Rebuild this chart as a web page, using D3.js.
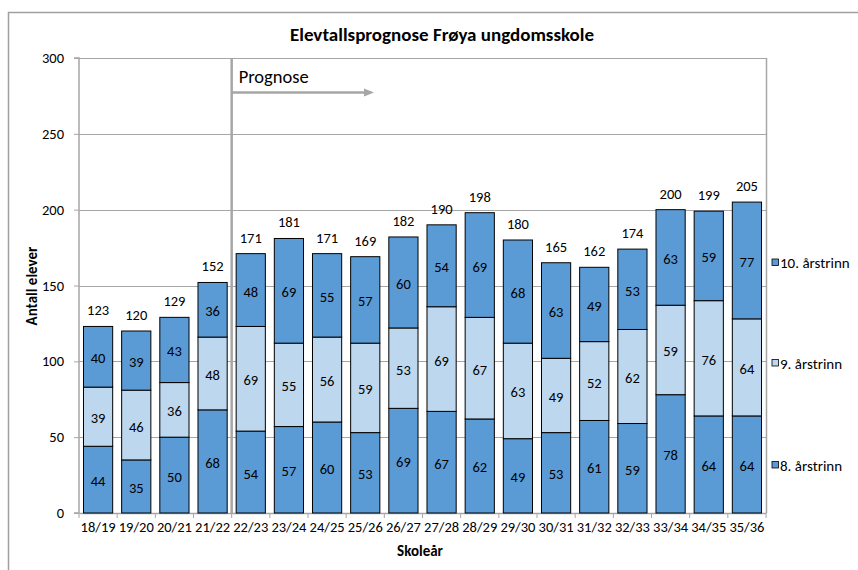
<!DOCTYPE html>
<html><head><meta charset="utf-8">
<script src="https://cdn.jsdelivr.net/npm/d3@7"></script>
<style>body{margin:0;background:#fff}svg{font-family:Carlito,Calibri,Lato,"Open Sans",sans-serif}</style>
</head><body><svg id="c" width="858" height="570"></svg>
<script>
const categories=["18/19","19/20","20/21","21/22","22/23","23/24","24/25","25/26","26/27","27/28","28/29","29/30","30/31","31/32","32/33","33/34","34/35","35/36"];
const trinn8=[44,35,50,68,54,57,60,53,69,67,62,49,53,61,59,78,64,64];
const trinn9=[39,46,36,48,69,55,56,59,53,69,67,63,49,52,62,59,76,64];
const trinn10=[40,39,43,36,48,69,55,57,60,54,69,68,63,49,53,63,59,77];
const seriesNames=["8. årstrinn","9. årstrinn","10. årstrinn"];
const yTicks=[0,50,100,150,200,250,300];
const prognoseStart="22/23";

const svg=d3.select("#c");
const L=79,R=766,T=58,B=513;
const x=d3.scaleBand().domain(categories).range([L,R]).paddingInner(0.235).paddingOuter(0.1175);
const y=d3.scaleLinear().domain([0,300]).range([B,T]);
const colors=["#5b9bd5","#bdd7ee","#5b9bd5"];
const FF="Carlito,Calibri,Lato,sans-serif";

// outer frame
svg.append("path").attr("d","M8.5,570 V12.5 H858").attr("fill","none").attr("stroke","#a0a0a0").attr("stroke-width",1.5);

// title
svg.append("text").attr("x",442).attr("y",41).attr("text-anchor","middle").attr("font-weight","bold").attr("font-size",19).text("Elevtallsprognose Frøya ungdomsskole");

// gridlines
svg.append("g").selectAll("line").data(yTicks.filter(d=>d>0)).join("line")
 .attr("x1",L).attr("x2",R).attr("y1",d=>Math.round(y(d))+0.5).attr("y2",d=>Math.round(y(d))+0.5)
 .attr("stroke","#a6a6a6").attr("stroke-width",1);
// plot right border
svg.append("line").attr("x1",R+0.5).attr("x2",R+0.5).attr("y1",T).attr("y2",B).attr("stroke","#a6a6a6").attr("stroke-width",1.5);

// y axis
const ya=svg.append("g").attr("transform",`translate(${L},0)`).call(d3.axisLeft(y).tickValues(yTicks).tickSize(5).tickPadding(10));
ya.select(".domain").attr("stroke","#a6a6a6").attr("stroke-width",1.5).attr("d",`M-5,${B}H0V${T}H-5`);
ya.selectAll(".tick line").attr("stroke","#a6a6a6");
ya.selectAll(".tick text").attr("font-size",14.5).attr("fill","#000").attr("font-family",FF);

// x axis
const step=x.step();
const xa=svg.append("g").attr("transform",`translate(0,${B})`).call(d3.axisBottom(x).tickSize(0).tickPadding(10));
xa.select(".domain").attr("stroke","#a6a6a6").attr("stroke-width",1.5);
xa.selectAll(".tick text").attr("font-size",14.5).attr("fill","#000").attr("font-family",FF).attr("dy","0.6em");
svg.append("g").selectAll("line").data(d3.range(categories.length+1)).join("line")
 .attr("x1",i=>L+i*step).attr("x2",i=>L+i*step).attr("y1",B).attr("y2",B+5).attr("stroke","#a6a6a6");

// stacked data
const rows=categories.map((c,i)=>({cat:c,s0:trinn8[i],s1:trinn9[i],s2:trinn10[i]}));
const stack=d3.stack().keys(["s0","s1","s2"])(rows);
const g=svg.append("g");
stack.forEach((layer,li)=>{
  g.append("g").selectAll("rect").data(layer).join("rect")
   .attr("x",d=>x(d.data.cat)).attr("width",x.bandwidth())
   .attr("y",d=>y(d[1])).attr("height",d=>y(d[0])-y(d[1]))
   .attr("fill",colors[li]).attr("stroke","#000").attr("stroke-width",1);
  g.append("g").selectAll("text").data(layer).join("text")
   .attr("x",d=>x(d.data.cat)+x.bandwidth()/2).attr("y",d=>(y(d[0])+y(d[1]))/2+6.5)
   .attr("text-anchor","middle").attr("font-size",14.5).text(d=>d[1]-d[0]);
});
// totals
g.append("g").selectAll("text").data(rows).join("text")
 .attr("x",d=>x(d.cat)+x.bandwidth()/2).attr("y",d=>y(d.s0+d.s1+d.s2)-11)
 .attr("text-anchor","middle").attr("font-size",14.5).text(d=>d.s0+d.s1+d.s2);

// prognose marker
const px=x(prognoseStart)-x.step()*x.paddingInner()/2;
svg.append("line").attr("x1",px).attr("x2",px).attr("y1",T).attr("y2",B).attr("stroke","#a6a6a6").attr("stroke-width",2.5);
svg.append("line").attr("x1",px).attr("x2",366).attr("y1",92.5).attr("y2",92.5).attr("stroke","#a6a6a6").attr("stroke-width",2.5);
svg.append("path").attr("d",`M364,88.5L374,92.5L364,96.5Z`).attr("fill","#a6a6a6");
svg.append("text").attr("x",px+7).attr("y",83).attr("font-size",18.5).text("Prognose");

// axis titles
svg.append("text").attr("transform","translate(37,286) rotate(-90)").attr("text-anchor","middle").attr("font-weight","bold").attr("font-size",15).text("Antall elever");
svg.append("text").attr("x",420).attr("y",556).attr("text-anchor","middle").attr("font-weight","bold").attr("font-size",15).text("Skoleår");

// legend
const legY=[465,363,262.5];
const lg=svg.append("g");
seriesNames.forEach((n,i)=>{
  lg.append("rect").attr("x",772).attr("y",legY[i]-3.5).attr("width",6.5).attr("height",6.5).attr("fill",colors[i]).attr("stroke","#000").attr("stroke-width",0.8);
  lg.append("text").attr("x",780).attr("y",legY[i]+5.5).attr("font-size",15).text(n);
});
</script></body></html>
